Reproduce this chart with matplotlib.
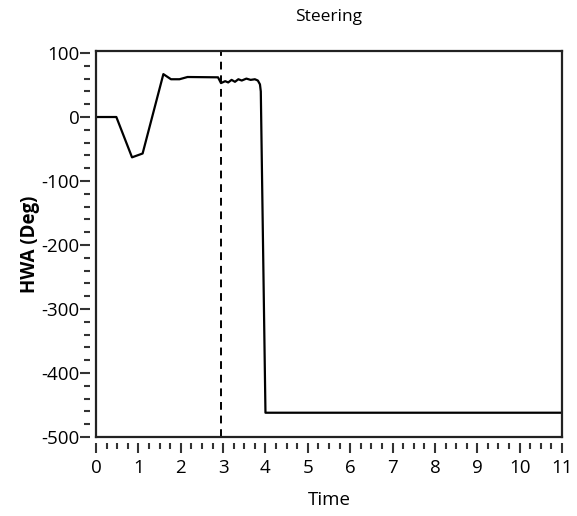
import matplotlib.pyplot as plt
from matplotlib.ticker import MultipleLocator

plt.rcParams['font.family'] = ['Open Sans', 'DejaVu Sans']
plt.rcParams['axes.unicode_minus'] = False

# steering trace
time = [0.0, 0.48, 0.85, 1.10, 1.59, 1.77, 1.97, 2.16, 2.88, 2.95,
        3.05, 3.12, 3.20, 3.28, 3.36, 3.44, 3.55, 3.65, 3.75, 3.82,
        3.87, 3.89, 4.0, 11.0]
hwa = [0, 0, -63, -57, 67, 59, 59, 62.5, 62, 53,
       56, 54, 58, 55, 59, 57, 60, 58, 59, 57,
       51, 40, -462, -462]
marker_t = 2.95

fig = plt.figure(figsize=(5.77, 5.16), dpi=100)
ax = fig.add_axes([0.1664, 0.153, 0.8076, 0.748])

ax.plot(time, hwa, color='black', lw=1.6)
ax.axvline(marker_t, color='black', lw=1.4, ls=(0, (4, 3)))

ax.set_xlim(0, 11)
ax.set_ylim(-500, 103)

# box lines drawn by hand, ticks sit a little outside
ax.axhline(-500, color='#222222', lw=1.6, clip_on=False)
ax.axvline(0, color='#222222', lw=1.6, clip_on=False)
for s in ['top', 'right']:
    ax.spines[s].set_linewidth(1.6)
    ax.spines[s].set_color('#222222')
for s in ['bottom', 'left']:
    ax.spines[s].set_position(('outward', 4))
    ax.spines[s].set_color('none')

ax.xaxis.set_major_locator(MultipleLocator(1))
ax.xaxis.set_minor_locator(MultipleLocator(0.25))
ax.yaxis.set_major_locator(MultipleLocator(100))
ax.yaxis.set_minor_locator(MultipleLocator(20))
ax.tick_params(which='major', length=7, width=1.5, labelsize=13.5, color='#333333')
ax.tick_params(which='minor', length=4, width=1.5, color='#333333')
ax.tick_params(axis='x', pad=5)
ax.tick_params(axis='y', pad=1)

ax.set_title('Steering', fontsize=12.5, pad=22)
ax.set_xlabel('Time', fontsize=13.5, labelpad=10)
ax.set_ylabel('HWA (Deg)', fontsize=13.5, fontweight='bold', labelpad=1)

fig.savefig('out.png')
